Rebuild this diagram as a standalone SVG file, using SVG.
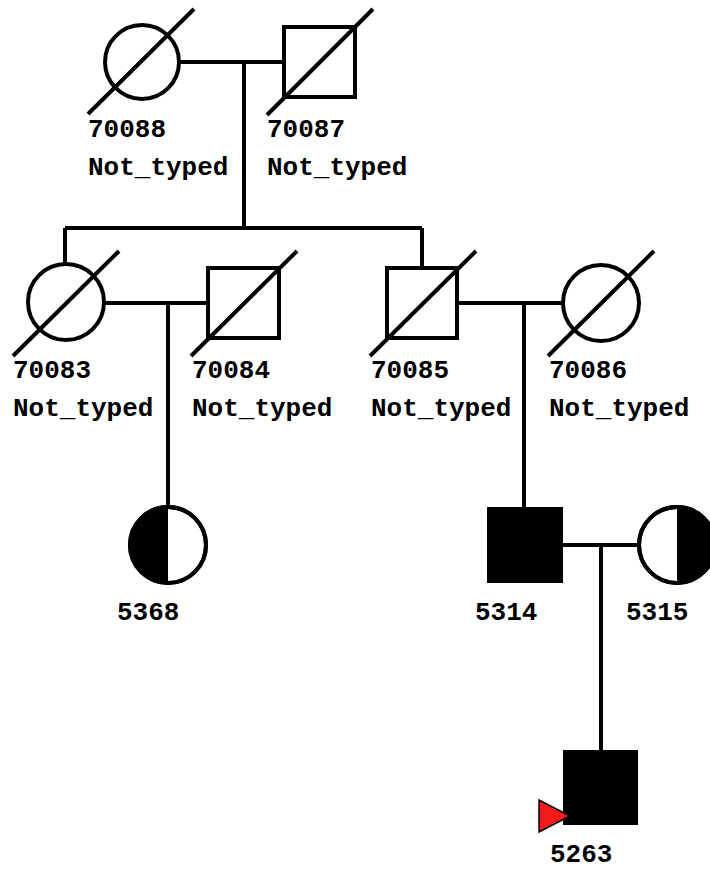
<svg xmlns="http://www.w3.org/2000/svg" width="710" height="872" viewBox="0 0 710 872">
<style>
.s{fill:#fff;stroke:#000;stroke-width:4}
.f{fill:#000;stroke:#000;stroke-width:4}
.l{fill:none;stroke:#000;stroke-width:4}
.t{font-family:"Liberation Mono","Courier New",monospace;font-weight:bold;font-size:26px;fill:#000}
</style>
<rect width="710" height="872" fill="#fff"/>
<g id="connectors">
<path class="l" d="M180,62H284M244,62V228M65,228H422M65,228V263M422,228V268M105,303H208M168,303V509M457,303H562M524,303V509M562,545H638M601,545V752"/>
</g>
<g id="n70088">
<circle class="s" cx="142" cy="62" r="37"/>
<line class="l" x1="88" y1="114" x2="194" y2="9"/>
<text class="t" x="88" y="137">70088</text>
<text class="t" x="88" y="175">Not_typed</text>
</g>
<g id="n70087">
<rect class="s" x="284" y="27" width="71" height="70"/>
<line class="l" x1="267" y1="115" x2="373" y2="9"/>
<text class="t" x="267" y="137">70087</text>
<text class="t" x="267" y="175">Not_typed</text>
</g>
<g id="n70083">
<circle class="s" cx="66" cy="302" r="38"/>
<line class="l" x1="13" y1="356" x2="119" y2="251"/>
<text class="t" x="13" y="378">70083</text>
<text class="t" x="13" y="416">Not_typed</text>
</g>
<g id="n70084">
<rect class="s" x="208" y="268" width="71" height="70"/>
<line class="l" x1="191" y1="356" x2="297" y2="251"/>
<text class="t" x="192" y="378">70084</text>
<text class="t" x="192" y="416">Not_typed</text>
</g>
<g id="n70085">
<rect class="s" x="387" y="268" width="70" height="70"/>
<line class="l" x1="370" y1="356" x2="476" y2="251"/>
<text class="t" x="371" y="378">70085</text>
<text class="t" x="371" y="416">Not_typed</text>
</g>
<g id="n70086">
<circle class="s" cx="601" cy="303" r="38"/>
<line class="l" x1="548" y1="356" x2="654" y2="251"/>
<text class="t" x="549" y="378">70086</text>
<text class="t" x="549" y="416">Not_typed</text>
</g>
<g id="n5368">
<circle class="s" cx="168" cy="545" r="38"/>
<path d="M168,507A38,38 0 0 0 168,583Z" fill="#000"/>
<circle class="l" cx="168" cy="545" r="38"/>
<text class="t" x="117" y="620">5368</text>
</g>
<g id="n5314">
<rect class="f" x="489" y="509" width="72" height="72"/>
<text class="t" x="475" y="620">5314</text>
</g>
<g id="n5315">
<circle class="s" cx="677" cy="545" r="38"/>
<path d="M677,507A38,38 0 0 1 677,583Z" fill="#000"/>
<circle class="l" cx="677" cy="545" r="38"/>
<text class="t" x="626" y="620">5315</text>
</g>
<g id="n5263">
<rect class="f" x="565" y="752" width="71" height="71"/>
<polygon points="539,800 539,832 570,816" fill="#f01c1c" stroke="#000" stroke-width="1.5"/>
<text class="t" x="550" y="862">5263</text>
</g>
</svg>
